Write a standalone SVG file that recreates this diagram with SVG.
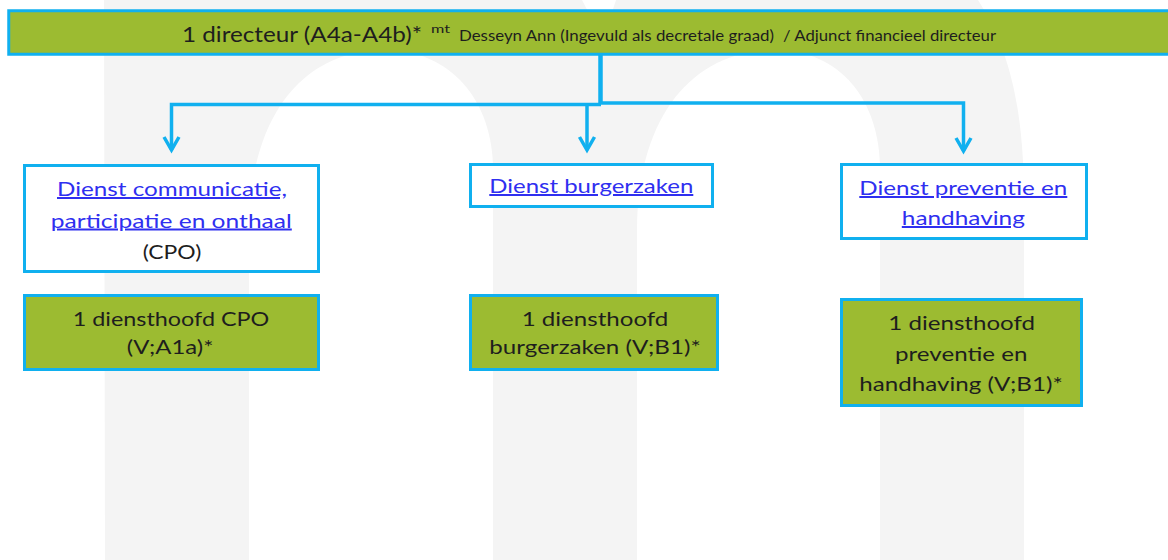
<svg xmlns="http://www.w3.org/2000/svg" width="1168" height="560" viewBox="0 0 1168 560">
  <defs>
    <style>
      .bg { fill: #f4f4f4; }
      .hole { fill: #ffffff; }
      .green { fill: #9cbb31; stroke: #10b0ef; stroke-width: 3; }
      .white { fill: #ffffff; stroke: #10b0ef; stroke-width: 3; }
      .t { font-family: Lato, "Liberation Sans", sans-serif; fill: #1e1e1e; lengthAdjust: spacingAndGlyphs; }
      .link { font-family: Lato, "Liberation Sans", sans-serif; fill: #2f2ff0; text-decoration: underline; }
      .conn { fill: none; stroke: #10b0ef; stroke-width: 3.5; }
    </style>
    <marker id="arrow" markerUnits="userSpaceOnUse" viewBox="-16 -10 20 20" refX="0" refY="0" markerWidth="20" markerHeight="20" orient="auto">
      <path d="M-13,-7.5 L0,0 L-13,7.5" fill="none" stroke="#10b0ef" stroke-width="3.5" stroke-linejoin="miter"/>
    </marker>
  </defs>

  <rect x="0" y="0" width="1168" height="560" fill="#ffffff"/>

  <!-- background watermark "m" -->
  <g id="watermark">
    <path class="bg" d="M104,0 L582,0 L603,40 L616,0 L978,0 C1010,50 1024,110 1024,200 L1024,560 L105,560 Z"/>
    <path class="hole" d="M249,560 L249,230 C249,120 300,50 385,50 C450,50 493,100 493,170 L493,560 Z"/>
    <path class="hole" d="M637,560 L637,230 C637,120 690,50 775,50 C840,50 880,100 880,170 L880,560 Z"/>
  </g>

  <g id="connectors">
    <line x1="600.5" y1="55" x2="600.5" y2="103" stroke="#10b0ef" stroke-width="4.5"/>
    <path class="conn" d="M601,104.5 H171.5 V150" marker-end="url(#arrow)"/>
    <path class="conn" d="M587,103 V150" marker-end="url(#arrow)"/>
    <path class="conn" d="M600,103 H963.5 V151" marker-end="url(#arrow)"/>
  </g>

  <g id="node-directeur">
    <rect class="green" x="8.75" y="10.75" width="1175" height="43.5" stroke-width="3.5"/>
    <text class="t" x="182" y="42" font-size="22" textLength="240" lengthAdjust="spacingAndGlyphs">1 directeur (A4a-A4b)*</text>
    <text class="t" x="431" y="33" font-size="12" textLength="19" lengthAdjust="spacingAndGlyphs">mt</text>
    <text class="t" x="459" y="40.5" font-size="15" textLength="315" lengthAdjust="spacingAndGlyphs">Desseyn Ann (Ingevuld als decretale graad)</text>
    <text class="t" x="783" y="40.5" font-size="15" textLength="213" lengthAdjust="spacingAndGlyphs">/ Adjunct financieel directeur</text>
  </g>

  <g id="node-dienst-cpo">
    <rect class="white" x="24.5" y="165.5" width="294" height="106"/>
    <text class="link" x="172" y="196" font-size="20" text-anchor="middle" textLength="230" lengthAdjust="spacingAndGlyphs">Dienst communicatie,</text>
    <text class="link" x="171.3" y="227.5" font-size="20" text-anchor="middle" textLength="241" lengthAdjust="spacingAndGlyphs">participatie en onthaal</text>
    <text class="t" x="172" y="259" font-size="20" text-anchor="middle" textLength="58.7" lengthAdjust="spacingAndGlyphs">(CPO)</text>
  </g>

  <g id="node-dienst-burgerzaken">
    <rect class="white" x="470.5" y="164.5" width="242" height="42"/>
    <text class="link" x="591.3" y="193" font-size="20" text-anchor="middle" textLength="204" lengthAdjust="spacingAndGlyphs">Dienst burgerzaken</text>
  </g>

  <g id="node-dienst-preventie">
    <rect class="white" x="841.5" y="164.5" width="245" height="74"/>
    <text class="link" x="963.3" y="195" font-size="20" text-anchor="middle" textLength="208" lengthAdjust="spacingAndGlyphs">Dienst preventie en</text>
    <text class="link" x="963.3" y="225" font-size="20" text-anchor="middle" textLength="123" lengthAdjust="spacingAndGlyphs">handhaving</text>
  </g>

  <g id="node-hoofd-cpo">
    <rect class="green" x="24.5" y="295.5" width="294" height="74"/>
    <text class="t" x="171" y="325.5" font-size="20" text-anchor="middle" textLength="196.7" lengthAdjust="spacingAndGlyphs">1 diensthoofd CPO</text>
    <text class="t" x="170" y="354" font-size="20" text-anchor="middle" textLength="86.7" lengthAdjust="spacingAndGlyphs">(V;A1a)*</text>
  </g>

  <g id="node-hoofd-burgerzaken">
    <rect class="green" x="470.5" y="295.5" width="247" height="74"/>
    <text class="t" x="595" y="325.5" font-size="20" text-anchor="middle" textLength="146.7" lengthAdjust="spacingAndGlyphs">1 diensthoofd</text>
    <text class="t" x="595" y="354" font-size="20" text-anchor="middle" textLength="211.3" lengthAdjust="spacingAndGlyphs">burgerzaken (V;B1)*</text>
  </g>

  <g id="node-hoofd-preventie">
    <rect class="green" x="841.5" y="299.5" width="240" height="106"/>
    <text class="t" x="961.7" y="330" font-size="20" text-anchor="middle" textLength="146.7" lengthAdjust="spacingAndGlyphs">1 diensthoofd</text>
    <text class="t" x="961.2" y="360.5" font-size="20" text-anchor="middle" textLength="132.3" lengthAdjust="spacingAndGlyphs">preventie en</text>
    <text class="t" x="961" y="390.5" font-size="20" text-anchor="middle" textLength="203.3" lengthAdjust="spacingAndGlyphs">handhaving (V;B1)*</text>
  </g>
</svg>
